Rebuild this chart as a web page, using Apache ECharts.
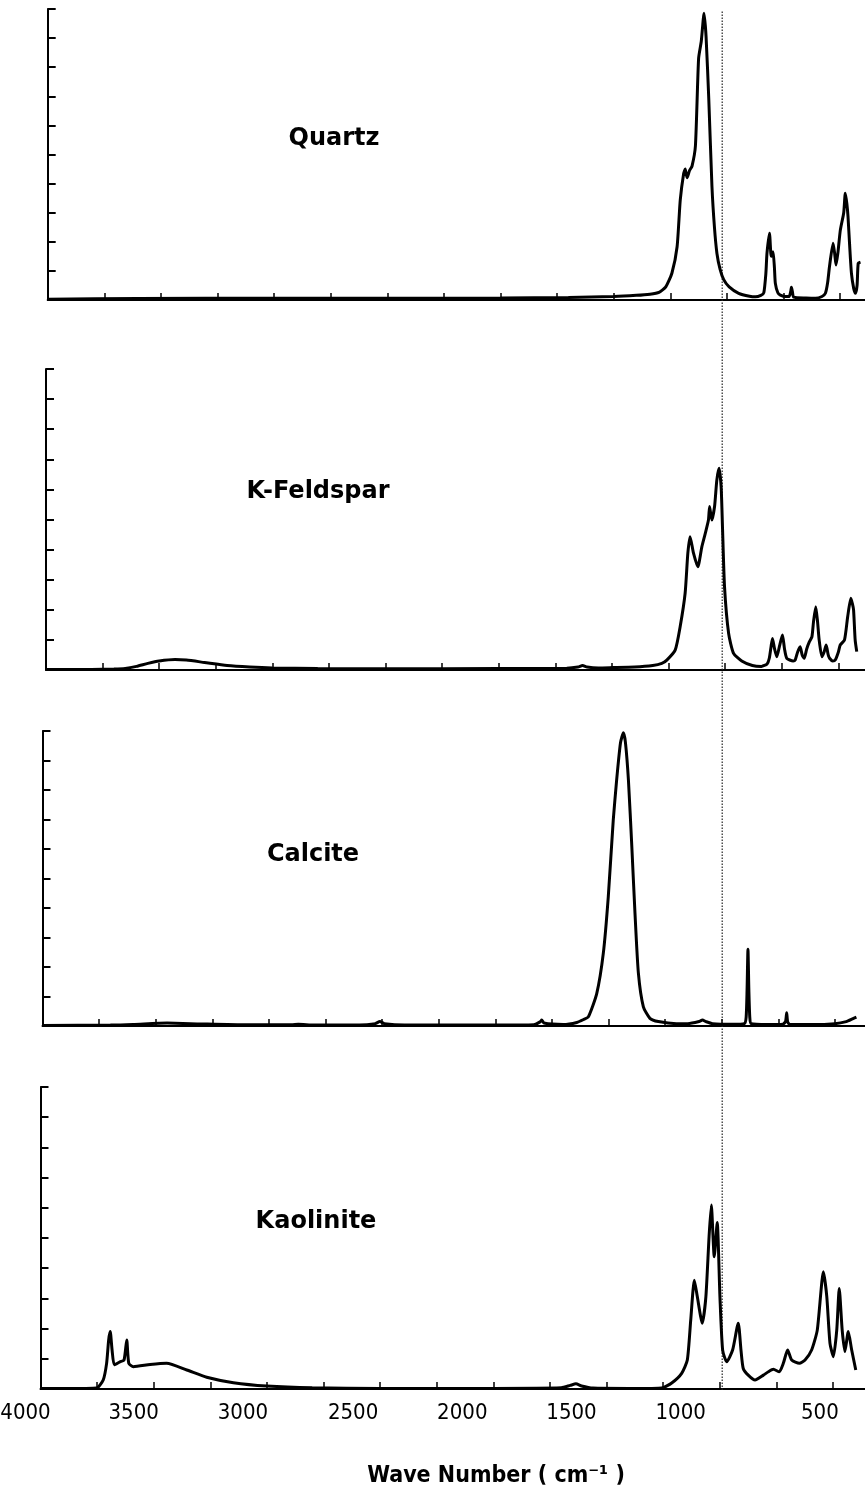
<!DOCTYPE html>
<html>
<head>
<meta charset="utf-8">
<title>IR spectra</title>
<script src="https://cdn.jsdelivr.net/npm/echarts@6/dist/echarts.min.js"></script>
<style>
  html, body { margin: 0; padding: 0; background: #fff; }
  #chart { width: 865px; height: 1496px; }
</style>
</head>
<body>
<div id="chart"></div>
<script>
// spectra: [wave number cm-1, absorbance in tick units 0..10]
const quartz = [
  [4000, 0.03], [3600, 0.05], [3000, 0.06], [2500, 0.06], [2000, 0.07], [1700, 0.09],
  [1500, 0.12], [1400, 0.16], [1340, 0.2], [1300, 0.26], [1270, 0.45], [1243, 0.92],
  [1220, 1.83], [1206, 3.44], [1191, 4.35], [1184, 4.5], [1176, 4.2], [1165, 4.45],
  [1154, 4.6], [1139, 5.3], [1125, 8.3], [1113, 8.9], [1101, 9.85], [1092, 9.05],
  [1080, 6.9], [1066, 3.9], [1055, 2.5], [1044, 1.6], [1030, 1.05], [1014, 0.7],
  [990, 0.45], [948, 0.23], [900, 0.13], [874, 0.11], [850, 0.16], [837, 0.25],
  [828, 0.9], [823, 1.6], [812, 2.29], [806, 1.6], [803, 1.5], [796, 1.66], [790, 1.1],
  [786, 0.57], [775, 0.25], [764, 0.17], [740, 0.12], [725, 0.12], [718, 0.3],
  [715, 0.44], [711, 0.3], [705, 0.1], [650, 0.07], [609, 0.06], [580, 0.12],
  [565, 0.23], [555, 0.6], [547, 1.14], [531, 1.95], [524, 1.6], [518, 1.2], [510, 1.6],
  [499, 2.4], [484, 3.0], [477, 3.67], [470, 3.3], [465, 2.86], [458, 1.9], [450, 0.92],
  [440, 0.4], [432, 0.23], [425, 0.5], [420, 1.26], [410, 1.3]
];
const feldspar = [
  [4000, 0.02], [3800, 0.02], [3700, 0.03], [3650, 0.05], [3600, 0.12], [3550, 0.22],
  [3500, 0.3], [3430, 0.35], [3380, 0.33], [3300, 0.25], [3200, 0.15], [3100, 0.1],
  [3000, 0.07], [2800, 0.05], [2500, 0.04], [2000, 0.05], [1700, 0.06], [1650, 0.1],
  [1630, 0.15], [1610, 0.1], [1560, 0.07], [1500, 0.08], [1400, 0.1], [1320, 0.15],
  [1280, 0.22], [1258, 0.33], [1221, 0.66], [1199, 1.44], [1177, 2.55], [1165, 3.88],
  [1155, 4.43], [1140, 3.88], [1121, 3.43], [1103, 4.1], [1088, 4.54], [1074, 4.98],
  [1069, 5.43], [1059, 4.98], [1047, 5.43], [1037, 6.31], [1027, 6.7], [1018, 6.09],
  [1012, 4.76], [1003, 2.77], [985, 1.22], [963, 0.55], [927, 0.3], [880, 0.15],
  [840, 0.12], [815, 0.2], [805, 0.4], [797, 0.8], [791, 1.05], [782, 0.7], [772, 0.44],
  [760, 0.8], [747, 1.16], [738, 0.7], [728, 0.39], [700, 0.3], [691, 0.33], [680, 0.6],
  [669, 0.77], [660, 0.5], [651, 0.39], [640, 0.7], [628, 0.94], [617, 1.1], [610, 1.6],
  [600, 2.1], [592, 1.6], [585, 1.0], [573, 0.44], [563, 0.6], [554, 0.83], [545, 0.5],
  [539, 0.39], [525, 0.3], [514, 0.33], [500, 0.6], [492, 0.83], [473, 1.0], [459, 1.77],
  [445, 2.38], [438, 2.2], [433, 2.0], [426, 1.0], [419, 0.61]
];
const calcite = [
  [4000, 0.02], [3700, 0.03], [3600, 0.05], [3450, 0.1], [3300, 0.07], [3100, 0.04],
  [2900, 0.04], [2870, 0.06], [2800, 0.03], [2600, 0.03], [2530, 0.08], [2510, 0.15],
  [2490, 0.08], [2400, 0.03], [2000, 0.03], [1830, 0.04], [1800, 0.15], [1795, 0.2],
  [1785, 0.1], [1700, 0.05], [1640, 0.12], [1610, 0.22], [1589, 0.31], [1552, 1.1],
  [1523, 2.46], [1501, 4.38], [1479, 6.98], [1464, 8.34], [1447, 9.6], [1434, 9.94],
  [1425, 9.6], [1412, 8.34], [1397, 6.08], [1383, 3.82], [1368, 1.79], [1346, 0.65],
  [1317, 0.26], [1280, 0.15], [1200, 0.08], [1150, 0.08], [1100, 0.15], [1085, 0.2],
  [1070, 0.15], [1040, 0.08], [950, 0.06], [900, 0.08], [892, 0.3], [888, 1.2],
  [884, 2.6], [880, 1.2], [876, 0.3], [870, 0.08], [800, 0.05], [730, 0.06], [718, 0.15],
  [713, 0.45], [709, 0.15], [700, 0.05], [600, 0.05], [500, 0.08], [450, 0.15],
  [420, 0.25], [405, 0.3]
];
const kaolinite = [
  [4000, 0.02], [3800, 0.02], [3752, 0.03], [3723, 0.3], [3708, 0.85], [3699, 1.62],
  [3692, 1.9], [3684, 1.3], [3674, 0.8], [3649, 0.9], [3631, 0.96], [3619, 1.62],
  [3610, 0.85], [3590, 0.74], [3516, 0.81], [3443, 0.85], [3354, 0.63], [3266, 0.39],
  [3148, 0.21], [3001, 0.1], [2800, 0.04], [2500, 0.02], [2000, 0.02], [1700, 0.04],
  [1660, 0.12], [1635, 0.17], [1610, 0.1], [1560, 0.03], [1400, 0.02], [1300, 0.02],
  [1256, 0.03], [1212, 0.2], [1168, 0.52], [1143, 0.96], [1128, 2.28], [1112, 3.6],
  [1099, 3.06], [1077, 2.18], [1061, 3.06], [1047, 5.04], [1037, 6.09], [1024, 4.38],
  [1011, 5.51], [999, 3.06], [987, 1.29], [969, 0.9], [943, 1.29], [918, 2.18],
  [906, 1.29], [896, 0.68], [874, 0.46], [844, 0.3], [807, 0.46], [785, 0.57],
  [763, 0.65], [737, 0.57], [719, 0.85], [700, 1.29], [682, 0.96], [648, 0.85],
  [623, 0.96], [594, 1.29], [569, 1.95], [542, 3.88], [527, 3.06], [513, 1.52],
  [498, 1.07], [483, 1.95], [472, 3.33], [459, 1.95], [447, 1.24], [432, 1.9],
  [417, 1.29], [399, 0.63]
];

const mineralNames = ['Quartz', 'K-Feldspar', 'Calcite', 'Kaolinite'];
const spectra = [quartz, feldspar, calcite, kaolinite];
const xTickLabels = [4000, 3500, 3000, 2500, 2000, 1500, 1000, 500];
const refWaveNumber = 1000; // dotted guide line
const xAxisTitle = 'Wave Number ( cm\u207B\u00B9 )';

// the printed tick labels sit a little left of their ticks (px)
const labelShift = { 4000: 15, 3500: 20, 3000: 24, 2500: 27, 2000: 31, 1500: 35, 1000: 39, 500: 13 };
const labelFont = "'DejaVu Sans Condensed', 'Liberation Sans Narrow', 'Liberation Sans', sans-serif";
const labelRich = {};
Object.keys(labelShift).forEach(k => {
  labelRich['t' + k] = {
    fontSize: 22, fontFamily: labelFont, color: '#000',
    padding: [0, labelShift[k] * 2, 0, 0]
  };
});

// panel boxes (the scan is slightly skewed, so lefts drift a bit)
const boxes = [
  { left: 47.7, top: 9, height: 291 },
  { left: 46, top: 369, height: 301 },
  { left: 42.5, top: 731, height: 295 },
  { left: 40.5, top: 1087, height: 302 }
];
const namePos = [[334, 139], [318, 492], [313, 855], [316, 1222]];
const pxPerUnit = 0.2264; // px per cm-1
const xMin = 250, xMax = 4000;
const plotWidth = (xMax - xMin) * pxPerUnit;

const grid = [], xAxis = [], yAxis = [], series = [];

boxes.forEach((b, i) => {
  grid.push({
    left: b.left, top: b.top, width: plotWidth, height: b.height,
    outerBoundsMode: 'none', containLabel: false
  });
  xAxis.push({
    type: 'value', gridIndex: i, min: xMin, max: xMax, inverse: true, interval: 250,
    axisLine: { show: true, onZero: false, lineStyle: { color: '#000', width: 2 } },
    axisTick: { show: true, inside: true, length: 7, lineStyle: { color: '#000', width: 1.5 } },
    axisLabel: {
      show: i === 3,
      color: '#000',
      fontSize: 22,
      fontFamily: labelFont,
      margin: 13,
      hideOverlap: false,
      formatter: v => xTickLabels.includes(v) ? '{t' + v + '|' + v + '}' : '',
      rich: labelRich
    },
    splitLine: { show: false }
  });
  yAxis.push({
    type: 'value', gridIndex: i, min: 0, max: 10, interval: 1,
    axisLine: { show: true, lineStyle: { color: '#000', width: 2 } },
    axisTick: { show: true, inside: true, length: 8, lineStyle: { color: '#000', width: 2 } },
    axisLabel: { show: false },
    splitLine: { show: false }
  });
  series.push({
    name: mineralNames[i],
    type: 'line',
    xAxisIndex: i,
    yAxisIndex: i,
    data: spectra[i],
    showSymbol: false,
    smooth: 0.2,
    lineStyle: { color: '#000', width: 3 },
    z: 3
  });
});

// overlay grid for the dotted 1000 cm-1 line through all panels
grid.push({ left: 43, top: 10, width: plotWidth, height: 1380, outerBoundsMode: 'none' });
xAxis.push({ type: 'value', gridIndex: 4, min: xMin, max: xMax, inverse: true, show: false });
yAxis.push({ type: 'value', gridIndex: 4, min: 0, max: 1, show: false });
series.push({
  type: 'line',
  xAxisIndex: 4,
  yAxisIndex: 4,
  data: [[refWaveNumber, 0], [refWaveNumber, 1]],
  showSymbol: false,
  lineStyle: { color: '#222', width: 1.2, type: [1.5, 1.5] },
  z: 1
});

const graphic = mineralNames.map((n, i) => ({
  type: 'text',
  x: namePos[i][0],
  y: namePos[i][1],
  style: {
    text: n,
    fill: '#000',
    font: "bold 24px 'DejaVu Sans', sans-serif",
    textAlign: 'center',
    textVerticalAlign: 'middle'
  }
}));
graphic.push({
  type: 'text',
  x: 496,
  y: 1476,
  style: {
    text: xAxisTitle,
    fill: '#000',
    font: "bold 23px " + labelFont,
    textAlign: 'center',
    textVerticalAlign: 'middle'
  }
});

const option = {
  backgroundColor: '#fff',
  animation: false,
  grid,
  xAxis,
  yAxis,
  series,
  graphic
};

const myChart = echarts.init(document.getElementById('chart'));
myChart.setOption(option);
</script>
</body>
</html>
